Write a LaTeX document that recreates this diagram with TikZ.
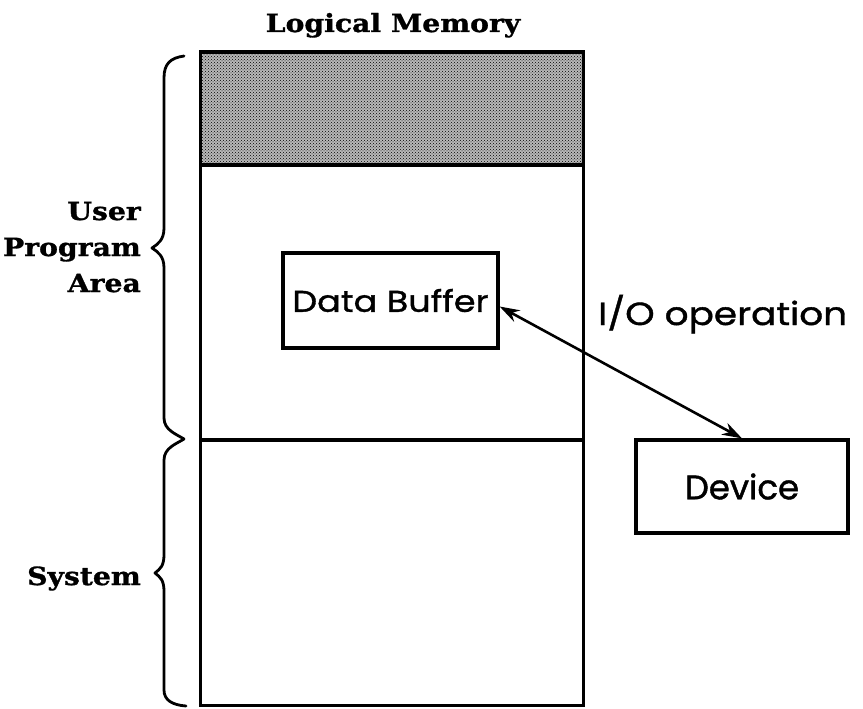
\documentclass[tikz,border=0pt]{standalone}
\usepackage{fontspec}
\setmainfont{DejaVu Serif}
\newfontfamily\sidefont[FakeStretch=1.13, FakeBold=1.2]{DejaVu Serif}
\newfontfamily\geofont[FakeBold=1.2]{Poppins}
\newfontfamily\geowide[FakeStretch=1.17, FakeBold=1.2]{Poppins}
\usetikzlibrary{patterns,arrows.meta}
\tikzset{
  memline/.style={line width=3pt},
  divline/.style={line width=3.6pt},
  bracepath/.style={line width=2.8pt, line cap=round, line join=round},
  sidelabel/.style={font=\sidefont\bfseries\fontsize{25}{30}\selectfont, inner sep=0pt},
  boxnode/.style={draw, line width=3.2pt, inner sep=0pt, font=\geowide\fontsize{30}{36}\selectfont},
  geolabel/.style={font=\geowide\fontsize{32}{38}\selectfont, inner sep=0pt},
  ioarrow/.style={line width=2.6pt, {Stealth[length=20pt,width=13pt]}-{Stealth[length=20pt,width=13pt]}}
}
\begin{document}
\begin{tikzpicture}[x=1pt,y=-1pt]
\useasboundingbox (0,0) rectangle (863,709);
% shaded band
\fill[black!28] (200,52) rectangle (583,165);
\fill[pattern=crosshatch dots, pattern color=black] (200,52) rectangle (583,165);
% memory column
\draw[memline] (200,52) rectangle (583,705);
\draw[divline] (200,52) -- (583,52);
\draw[divline] (200,165) -- (583,165);
\draw[divline] (200,440) -- (583,440);
% title
\node[sidelabel, anchor=base] (title) at (393,32) {Logical Memory};
% braces
\draw[bracepath] (184,56) .. controls (170,58) and (164,64) .. (164,78)
  -- (164,228) .. controls (164,240) and (158,244) .. (152,248)
  .. controls (158,252) and (164,256) .. (164,268)
  -- (164,418) .. controls (164,430) and (176,434) .. (184,439);
\draw[bracepath] (184,439) .. controls (176,444) and (164,448) .. (164,460)
  -- (164,555) .. controls (164,566) and (160,569) .. (155,573)
  .. controls (160,577) and (164,580) .. (164,591)
  -- (164,690) .. controls (164,700) and (172,705) .. (186,706);
% side labels
\node[sidelabel, anchor=base east] (user) at (141,220) {User};
\node[sidelabel, anchor=base east] (program) at (141,256) {Program};
\node[sidelabel, anchor=base east] (area) at (141,292) {Area};
\node[sidelabel, anchor=base east] (system) at (141,585) {System};
% boxes
\node[boxnode, minimum width=215pt, minimum height=95pt] (db) at (390.5,300.5) {Data Buffer};
\node[boxnode, minimum width=212pt, minimum height=93pt, font=\geofont\fontsize{34}{40}\selectfont] (dev) at (742,486.5) {Device};
\node[geolabel, anchor=base west] (io) at (598,325) {I/O operation};
% arrow
\draw[ioarrow] ([yshift=-6pt]db.east) -- (dev.north);
\end{tikzpicture}
\end{document}
